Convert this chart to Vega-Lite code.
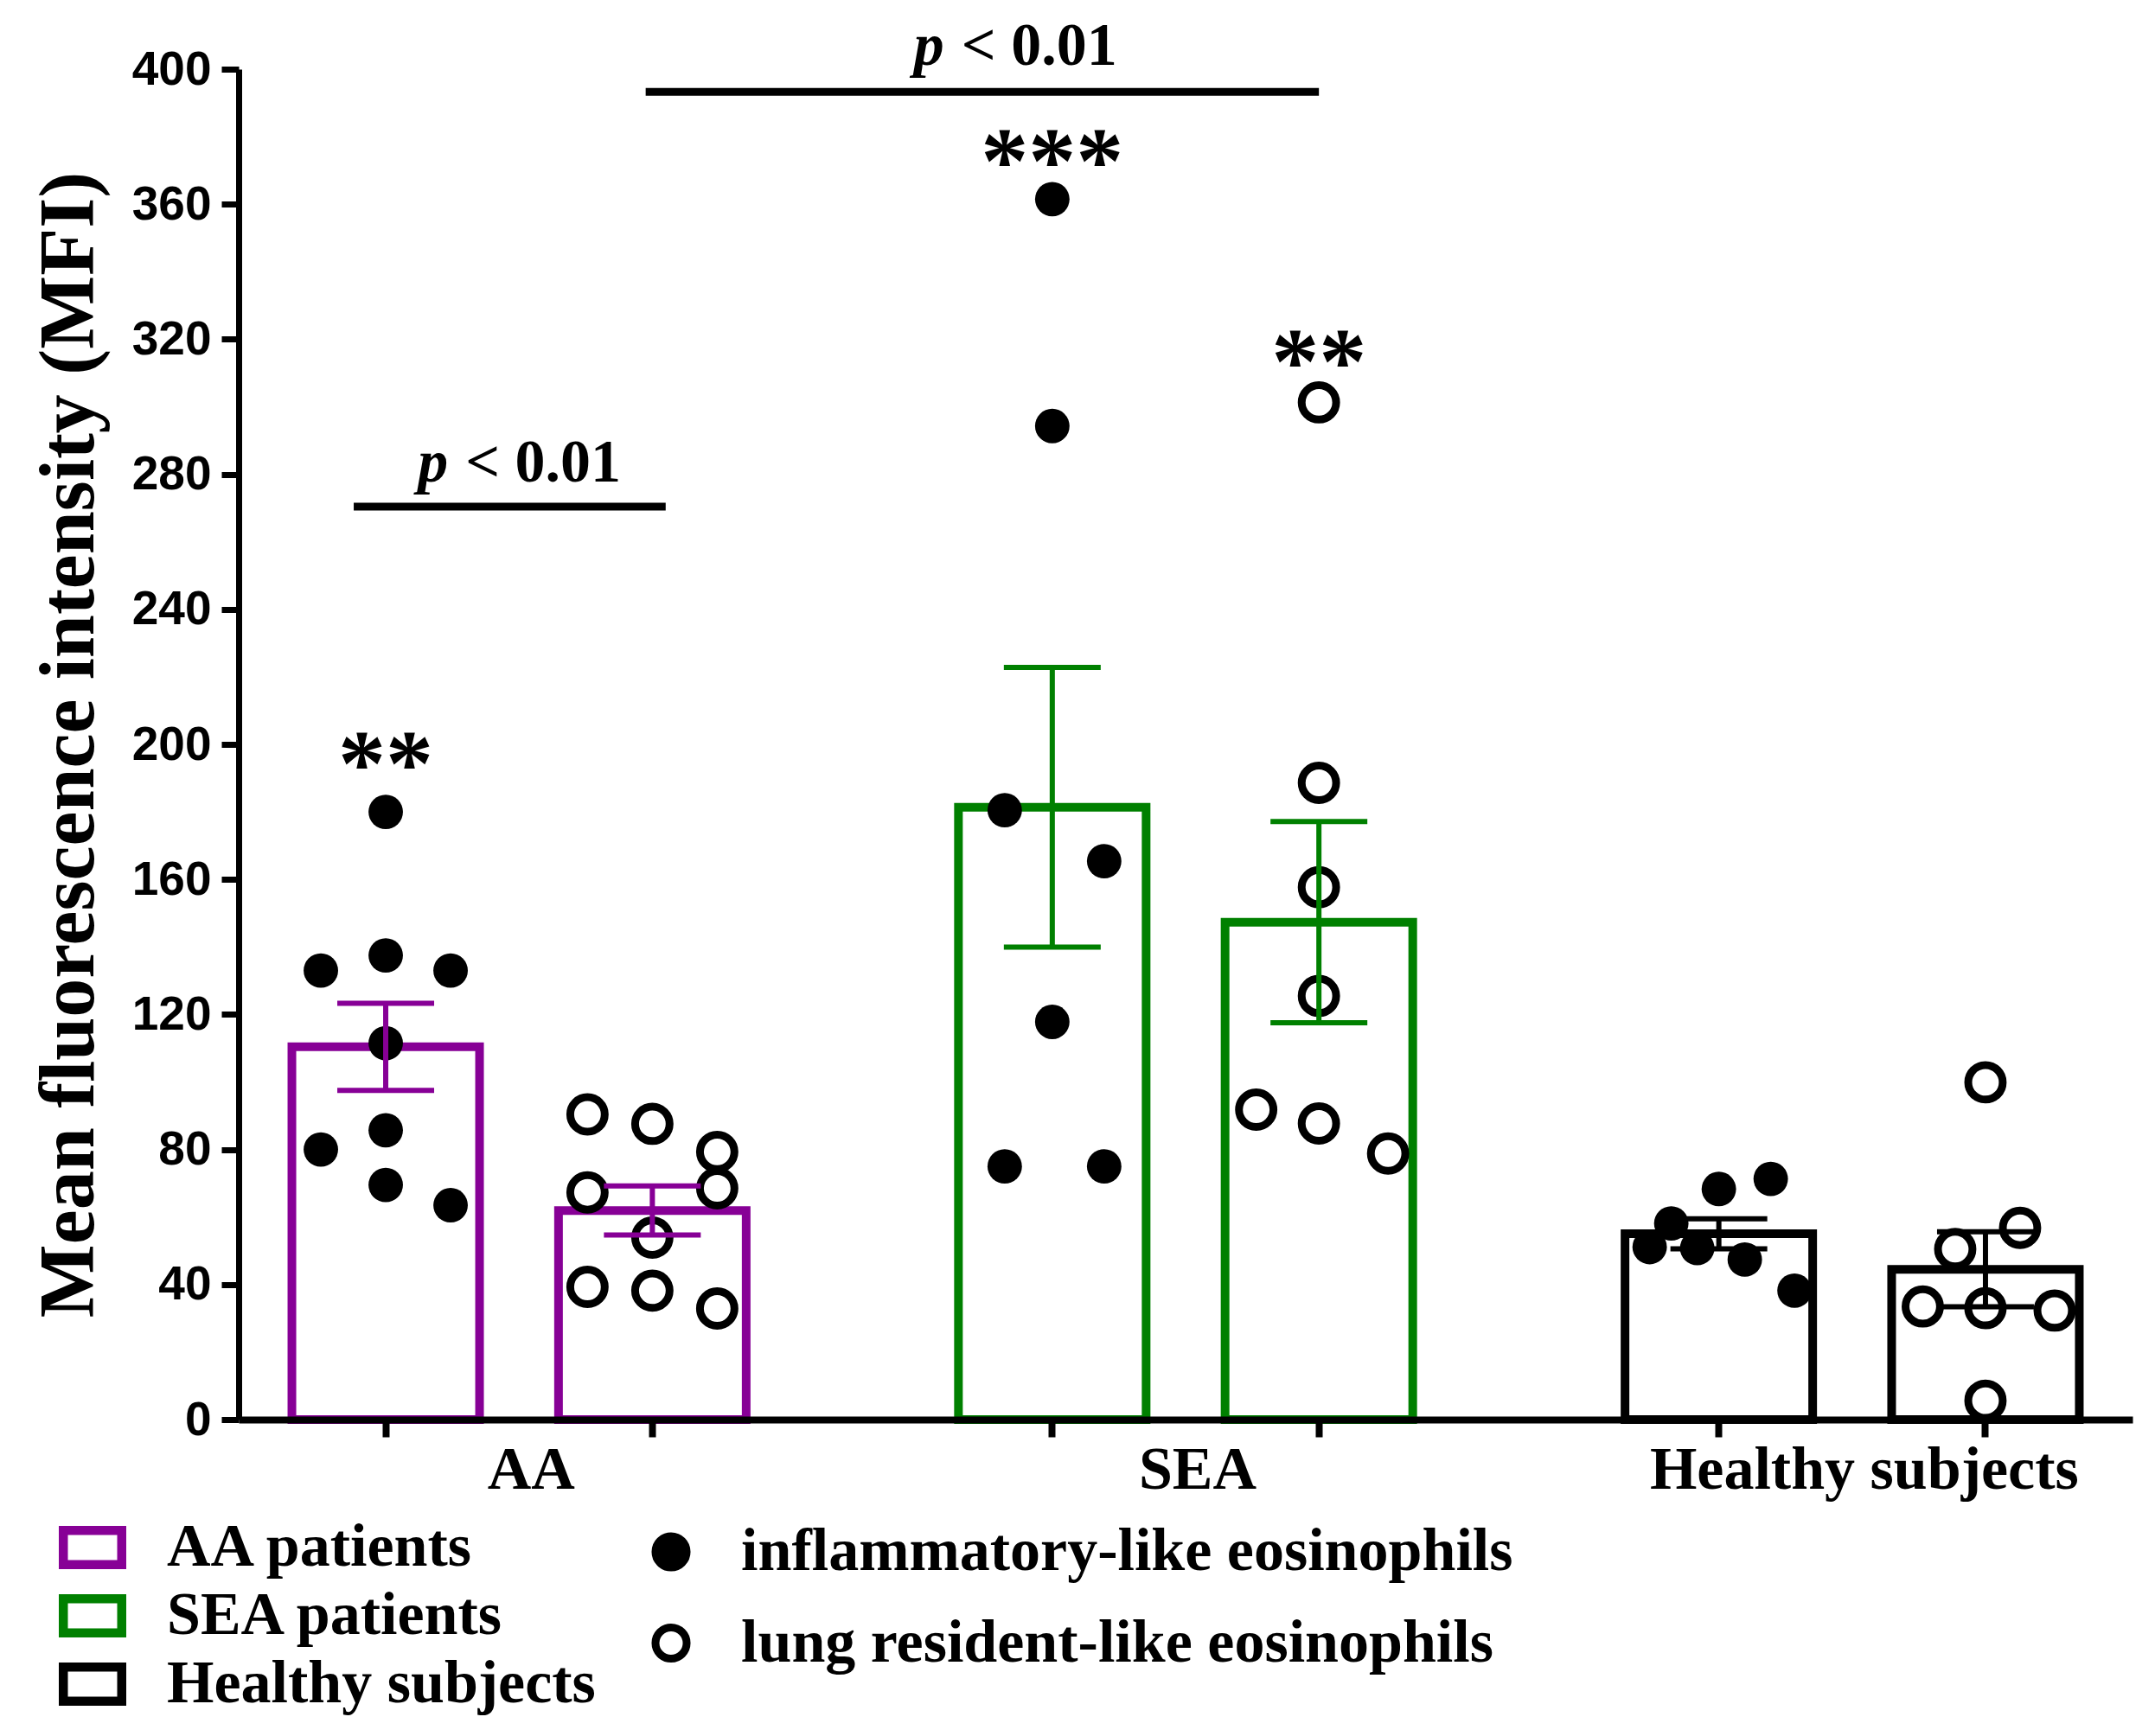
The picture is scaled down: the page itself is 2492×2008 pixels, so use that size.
{
  "$schema": "https://vega.github.io/schema/vega-lite/v6.json",
  "autosize": {"type": "none"},
  "padding": {"left": 276, "top": 80, "right": 26, "bottom": 366},
  "width": 2190,
  "height": 1562,
  "background": "white",
  "config": {
    "view": {"stroke": null},
    "text": {"font": "Liberation Serif", "fontWeight": "bold", "color": "black"}
  },
  "datasets": {
    "eos": [
      {"cohort": "AA patients", "bar": "AA inflammatory", "cell": "inflammatory-like eosinophils", "value": 180, "swarm": 0},
      {"cohort": "AA patients", "bar": "AA inflammatory", "cell": "inflammatory-like eosinophils", "value": 133, "swarm": -3},
      {"cohort": "AA patients", "bar": "AA inflammatory", "cell": "inflammatory-like eosinophils", "value": 137.5, "swarm": 0},
      {"cohort": "AA patients", "bar": "AA inflammatory", "cell": "inflammatory-like eosinophils", "value": 133, "swarm": 3},
      {"cohort": "AA patients", "bar": "AA inflammatory", "cell": "inflammatory-like eosinophils", "value": 111.5, "swarm": 0},
      {"cohort": "AA patients", "bar": "AA inflammatory", "cell": "inflammatory-like eosinophils", "value": 80, "swarm": -3},
      {"cohort": "AA patients", "bar": "AA inflammatory", "cell": "inflammatory-like eosinophils", "value": 85.7, "swarm": 0},
      {"cohort": "AA patients", "bar": "AA inflammatory", "cell": "inflammatory-like eosinophils", "value": 69.5, "swarm": 0},
      {"cohort": "AA patients", "bar": "AA inflammatory", "cell": "inflammatory-like eosinophils", "value": 63.5, "swarm": 3},
      {"cohort": "AA patients", "bar": "AA lung", "cell": "lung resident-like eosinophils", "value": 90.4, "swarm": -3},
      {"cohort": "AA patients", "bar": "AA lung", "cell": "lung resident-like eosinophils", "value": 87.6, "swarm": 0},
      {"cohort": "AA patients", "bar": "AA lung", "cell": "lung resident-like eosinophils", "value": 79.3, "swarm": 3},
      {"cohort": "AA patients", "bar": "AA lung", "cell": "lung resident-like eosinophils", "value": 67.3, "swarm": -3},
      {"cohort": "AA patients", "bar": "AA lung", "cell": "lung resident-like eosinophils", "value": 68.5, "swarm": 3},
      {"cohort": "AA patients", "bar": "AA lung", "cell": "lung resident-like eosinophils", "value": 53.9, "swarm": 0},
      {"cohort": "AA patients", "bar": "AA lung", "cell": "lung resident-like eosinophils", "value": 39.3, "swarm": -3},
      {"cohort": "AA patients", "bar": "AA lung", "cell": "lung resident-like eosinophils", "value": 38.2, "swarm": 0},
      {"cohort": "AA patients", "bar": "AA lung", "cell": "lung resident-like eosinophils", "value": 32.9, "swarm": 3},
      {"cohort": "SEA patients", "bar": "SEA inflammatory", "cell": "inflammatory-like eosinophils", "value": 361.5, "swarm": 0},
      {"cohort": "SEA patients", "bar": "SEA inflammatory", "cell": "inflammatory-like eosinophils", "value": 294.3, "swarm": 0},
      {"cohort": "SEA patients", "bar": "SEA inflammatory", "cell": "inflammatory-like eosinophils", "value": 180.5, "swarm": -2.2},
      {"cohort": "SEA patients", "bar": "SEA inflammatory", "cell": "inflammatory-like eosinophils", "value": 165.4, "swarm": 2.4},
      {"cohort": "SEA patients", "bar": "SEA inflammatory", "cell": "inflammatory-like eosinophils", "value": 117.8, "swarm": 0},
      {"cohort": "SEA patients", "bar": "SEA inflammatory", "cell": "inflammatory-like eosinophils", "value": 75, "swarm": -2.2},
      {"cohort": "SEA patients", "bar": "SEA inflammatory", "cell": "inflammatory-like eosinophils", "value": 75, "swarm": 2.4},
      {"cohort": "SEA patients", "bar": "SEA lung", "cell": "lung resident-like eosinophils", "value": 301.3, "swarm": 0},
      {"cohort": "SEA patients", "bar": "SEA lung", "cell": "lung resident-like eosinophils", "value": 188.6, "swarm": 0},
      {"cohort": "SEA patients", "bar": "SEA lung", "cell": "lung resident-like eosinophils", "value": 157.7, "swarm": 0},
      {"cohort": "SEA patients", "bar": "SEA lung", "cell": "lung resident-like eosinophils", "value": 125.5, "swarm": 0},
      {"cohort": "SEA patients", "bar": "SEA lung", "cell": "lung resident-like eosinophils", "value": 91.8, "swarm": -2.9},
      {"cohort": "SEA patients", "bar": "SEA lung", "cell": "lung resident-like eosinophils", "value": 87.7, "swarm": 0},
      {"cohort": "SEA patients", "bar": "SEA lung", "cell": "lung resident-like eosinophils", "value": 78.8, "swarm": 3.2},
      {"cohort": "Healthy subjects", "bar": "Healthy inflammatory", "cell": "inflammatory-like eosinophils", "value": 71.3, "swarm": 2.4},
      {"cohort": "Healthy subjects", "bar": "Healthy inflammatory", "cell": "inflammatory-like eosinophils", "value": 68.3, "swarm": 0},
      {"cohort": "Healthy subjects", "bar": "Healthy inflammatory", "cell": "inflammatory-like eosinophils", "value": 58.1, "swarm": -2.2},
      {"cohort": "Healthy subjects", "bar": "Healthy inflammatory", "cell": "inflammatory-like eosinophils", "value": 51.1, "swarm": -3.2},
      {"cohort": "Healthy subjects", "bar": "Healthy inflammatory", "cell": "inflammatory-like eosinophils", "value": 50.8, "swarm": -1},
      {"cohort": "Healthy subjects", "bar": "Healthy inflammatory", "cell": "inflammatory-like eosinophils", "value": 47.4, "swarm": 1.2},
      {"cohort": "Healthy subjects", "bar": "Healthy inflammatory", "cell": "inflammatory-like eosinophils", "value": 38.2, "swarm": 3.5},
      {"cohort": "Healthy subjects", "bar": "Healthy lung", "cell": "lung resident-like eosinophils", "value": 99.9, "swarm": 0},
      {"cohort": "Healthy subjects", "bar": "Healthy lung", "cell": "lung resident-like eosinophils", "value": 56.8, "swarm": 1.6},
      {"cohort": "Healthy subjects", "bar": "Healthy lung", "cell": "lung resident-like eosinophils", "value": 50.5, "swarm": -1.4},
      {"cohort": "Healthy subjects", "bar": "Healthy lung", "cell": "lung resident-like eosinophils", "value": 33.5, "swarm": -2.9},
      {"cohort": "Healthy subjects", "bar": "Healthy lung", "cell": "lung resident-like eosinophils", "value": 33.0, "swarm": 0},
      {"cohort": "Healthy subjects", "bar": "Healthy lung", "cell": "lung resident-like eosinophils", "value": 32.3, "swarm": 3.2},
      {"cohort": "Healthy subjects", "bar": "Healthy lung", "cell": "lung resident-like eosinophils", "value": 5.6, "swarm": 0}
    ]
  },
  "data": {"name": "eos"},
  "encoding": {
    "x": {
      "field": "bar",
      "type": "nominal",
      "title": null,
      "scale": {
        "domain": ["AA inflammatory", "AA mid", "AA lung", "gap 1", "gap 2", "SEA inflammatory", "SEA mid", "SEA lung", "gap 3", "gap 4", "Healthy inflammatory", "Healthy mid", "Healthy lung"],
        "paddingInner": 0,
        "paddingOuter": 0.603
      },
      "axis": {
        "values": ["AA inflammatory", "AA lung", "SEA inflammatory", "SEA lung", "Healthy inflammatory", "Healthy lung"],
        "labels": false,
        "title": null,
        "domainColor": "black",
        "domainWidth": 8,
        "tickColor": "black",
        "tickWidth": 8,
        "tickSize": 20,
        "grid": false,
        "zindex": 1
      }
    }
  },
  "layer": [
    {
      "mark": {"type": "bar", "width": 217, "filled": false, "strokeWidth": 10},
      "encoding": {
        "y": {
          "aggregate": "mean",
          "field": "value",
          "type": "quantitative",
          "title": "Mean fluorescence intensity (MFI)",
          "scale": {"domain": [0, 400], "nice": false},
          "axis": {
            "values": [0, 40, 80, 120, 160, 200, 240, 280, 320, 360, 400],
            "title": "Mean fluorescence intensity (MFI)",
            "titleFont": "Liberation Serif",
            "titleFontSize": 90,
            "titleFontWeight": "bold",
            "titleColor": "black",
            "titleX": -169,
            "titleY": 781,
            "titleAngle": -90,
            "titleBaseline": "alphabetic",
            "titleAlign": "center",
            "labelFont": "Liberation Sans",
            "labelFontSize": 55,
            "labelFontWeight": "bold",
            "labelColor": "black",
            "labelPadding": 12,
            "labelOverlap": false,
            "tickSize": 20,
            "tickWidth": 7,
            "tickColor": "black",
            "domainWidth": 7,
            "domainColor": "black",
            "grid": false,
            "zindex": 1
          }
        },
        "stroke": {
          "field": "cohort",
          "type": "nominal",
          "scale": {"domain": ["AA patients", "SEA patients", "Healthy subjects"], "range": ["#870096", "#008000", "#000000"]},
          "legend": {
            "orient": "none",
            "legendX": -204,
            "legendY": 1675,
            "title": null,
            "padding": 0,
            "symbolType": "M-1.56,-1.0L1.56,-1.0L1.56,1.0L-1.56,1.0Z M-1.14,-0.58L-1.14,0.58L1.14,0.58L1.14,-0.58Z",
            "symbolSize": 2500,
            "symbolStrokeWidth": 0,
            "labelFont": "Liberation Serif",
            "labelFontSize": 70,
            "labelFontWeight": "bold",
            "labelColor": "black",
            "labelLimit": 2000,
            "labelOffset": 51,
            "rowPadding": 9
          }
        }
      }
    },
    {
      "transform": [{"filter": "datum.cell === 'inflammatory-like eosinophils'"}],
      "mark": {"type": "point", "shape": "circle", "filled": true, "strokeWidth": 0, "size": 1590, "opacity": 1},
      "encoding": {
        "xOffset": {"field": "swarm", "type": "quantitative", "scale": {"domain": [-4, 4], "range": [-22.92, 177.08]}},
        "y": {"field": "value", "type": "quantitative", "title": "Mean fluorescence intensity (MFI)", "scale": {"domain": [0, 400], "nice": false}},
        "fill": {
          "field": "cell",
          "type": "nominal",
          "scale": {"domain": ["inflammatory-like eosinophils", "lung resident-like eosinophils"], "range": ["#000000", "#ffffff"]},
          "legend": {
            "orient": "none",
            "legendX": 465,
            "legendY": 1680,
            "title": null,
            "padding": 0,
            "symbolType": "circle",
            "symbolSize": 1300,
            "symbolStrokeColor": "black",
            "symbolStrokeWidth": 9,
            "labelFont": "Liberation Serif",
            "labelFontSize": 70,
            "labelFontWeight": "bold",
            "labelColor": "black",
            "labelLimit": 2000,
            "labelOffset": 46,
            "rowPadding": 31.5
          }
        }
      }
    },
    {
      "transform": [{"filter": "datum.cell === 'lung resident-like eosinophils'"}],
      "mark": {"type": "point", "shape": "circle", "filled": true, "stroke": "black", "strokeWidth": 9, "size": 1590, "opacity": 1},
      "encoding": {
        "xOffset": {"field": "swarm", "type": "quantitative", "scale": {"domain": [-4, 4], "range": [-22.92, 177.08]}},
        "y": {"field": "value", "type": "quantitative", "title": "Mean fluorescence intensity (MFI)", "scale": {"domain": [0, 400], "nice": false}},
        "fill": {
          "field": "cell",
          "type": "nominal",
          "scale": {"domain": ["inflammatory-like eosinophils", "lung resident-like eosinophils"], "range": ["#000000", "#ffffff"]},
          "legend": {
            "orient": "none",
            "legendX": 465,
            "legendY": 1680,
            "title": null,
            "padding": 0,
            "symbolType": "circle",
            "symbolSize": 1300,
            "symbolStrokeColor": "black",
            "symbolStrokeWidth": 9,
            "labelFont": "Liberation Serif",
            "labelFontSize": 70,
            "labelFontWeight": "bold",
            "labelColor": "black",
            "labelLimit": 2000,
            "labelOffset": 46,
            "rowPadding": 31.5
          }
        }
      }
    },
    {
      "mark": {"type": "errorbar", "extent": "stderr", "ticks": {"size": 112, "thickness": 6, "opacity": 1}, "rule": {"strokeWidth": 6, "opacity": 1}},
      "encoding": {
        "y": {"field": "value", "type": "quantitative", "title": "Mean fluorescence intensity (MFI)", "scale": {"domain": [0, 400], "nice": false}},
        "color": {
          "field": "cohort",
          "type": "nominal",
          "scale": {"domain": ["AA patients", "SEA patients", "Healthy subjects"], "range": ["#870096", "#008000", "#000000"]},
          "legend": null
        }
      }
    },
    {
      "data": {"values": [{"from": "AA inflammatory", "to": "AA lung"}]},
      "mark": {"type": "rule", "strokeWidth": 9, "color": "black"},
      "encoding": {
        "x": {
          "field": "from",
          "type": "nominal",
          "title": null,
          "bandPosition": 0.26,
          "scale": {
            "domain": ["AA inflammatory", "AA mid", "AA lung", "gap 1", "gap 2", "SEA inflammatory", "SEA mid", "SEA lung", "gap 3", "gap 4", "Healthy inflammatory", "Healthy mid", "Healthy lung"],
            "paddingInner": 0,
            "paddingOuter": 0.603
          },
          "axis": {
            "values": ["AA inflammatory", "AA lung", "SEA inflammatory", "SEA lung", "Healthy inflammatory", "Healthy lung"],
            "labels": false,
            "title": null,
            "domainColor": "black",
            "domainWidth": 8,
            "tickColor": "black",
            "tickWidth": 8,
            "tickSize": 20,
            "grid": false,
            "zindex": 1
          }
        },
        "x2": {"field": "to", "bandPosition": 0.6},
        "y": {"datum": 270.4, "type": "quantitative", "title": "Mean fluorescence intensity (MFI)", "scale": {"domain": [0, 400], "nice": false}}
      }
    },
    {
      "data": {"values": [{"from": "AA lung", "to": "SEA lung"}]},
      "mark": {"type": "rule", "strokeWidth": 9, "color": "black"},
      "encoding": {
        "x": {
          "field": "from",
          "type": "nominal",
          "title": null,
          "bandPosition": 0.45,
          "scale": {
            "domain": ["AA inflammatory", "AA mid", "AA lung", "gap 1", "gap 2", "SEA inflammatory", "SEA mid", "SEA lung", "gap 3", "gap 4", "Healthy inflammatory", "Healthy mid", "Healthy lung"],
            "paddingInner": 0,
            "paddingOuter": 0.603
          },
          "axis": {
            "values": ["AA inflammatory", "AA lung", "SEA inflammatory", "SEA lung", "Healthy inflammatory", "Healthy lung"],
            "labels": false,
            "title": null,
            "domainColor": "black",
            "domainWidth": 8,
            "tickColor": "black",
            "tickWidth": 8,
            "tickSize": 20,
            "grid": false,
            "zindex": 1
          }
        },
        "x2": {"field": "to", "bandPosition": 0.5},
        "y": {"datum": 393.3, "type": "quantitative", "title": "Mean fluorescence intensity (MFI)", "scale": {"domain": [0, 400], "nice": false}}
      }
    },
    {
      "data": {"values": [{"bar": "AA mid"}]},
      "mark": {"type": "text", "text": "p", "fontStyle": "italic", "fontSize": 70, "align": "right", "baseline": "alphabetic", "dx": -82},
      "encoding": {"y": {"datum": 277.8, "type": "quantitative", "title": "Mean fluorescence intensity (MFI)", "scale": {"domain": [0, 400], "nice": false}}}
    },
    {
      "data": {"values": [{"bar": "AA mid"}]},
      "mark": {"type": "text", "text": "< 0.01", "fontSize": 70, "align": "left", "baseline": "alphabetic", "dx": -62},
      "encoding": {"y": {"datum": 277.8, "type": "quantitative", "title": "Mean fluorescence intensity (MFI)", "scale": {"domain": [0, 400], "nice": false}}}
    },
    {
      "data": {"values": [{"bar": "SEA inflammatory"}]},
      "mark": {"type": "text", "text": "p", "fontStyle": "italic", "fontSize": 70, "align": "right", "baseline": "alphabetic", "dx": -125},
      "encoding": {"y": {"datum": 401.3, "type": "quantitative", "title": "Mean fluorescence intensity (MFI)", "scale": {"domain": [0, 400], "nice": false}}}
    },
    {
      "data": {"values": [{"bar": "SEA inflammatory"}]},
      "mark": {"type": "text", "text": "< 0.01", "fontSize": 70, "align": "left", "baseline": "alphabetic", "dx": -105},
      "encoding": {"y": {"datum": 401.3, "type": "quantitative", "title": "Mean fluorescence intensity (MFI)", "scale": {"domain": [0, 400], "nice": false}}}
    },
    {
      "data": {"values": [{"bar": "AA inflammatory"}]},
      "mark": {"type": "text", "text": "**", "fontSize": 110, "align": "center", "baseline": "alphabetic"},
      "encoding": {"y": {"datum": 184.9, "type": "quantitative", "title": "Mean fluorescence intensity (MFI)", "scale": {"domain": [0, 400], "nice": false}}}
    },
    {
      "data": {"values": [{"bar": "SEA inflammatory"}]},
      "mark": {"type": "text", "text": "***", "fontSize": 110, "align": "center", "baseline": "alphabetic"},
      "encoding": {"y": {"datum": 363.4, "type": "quantitative", "title": "Mean fluorescence intensity (MFI)", "scale": {"domain": [0, 400], "nice": false}}}
    },
    {
      "data": {"values": [{"bar": "SEA lung"}]},
      "mark": {"type": "text", "text": "**", "fontSize": 110, "align": "center", "baseline": "alphabetic"},
      "encoding": {"y": {"datum": 304.0, "type": "quantitative", "title": "Mean fluorescence intensity (MFI)", "scale": {"domain": [0, 400], "nice": false}}}
    },
    {
      "data": {"values": [{"bar": "AA mid", "label": "AA"}, {"bar": "SEA mid", "label": "SEA"}, {"bar": "Healthy mid", "label": "Healthy subjects"}]},
      "mark": {"type": "text", "fontSize": 70, "align": "center", "baseline": "alphabetic", "dx": 14},
      "encoding": {
        "text": {"field": "label", "type": "nominal"},
        "y": {"datum": -20.5, "type": "quantitative", "title": "Mean fluorescence intensity (MFI)", "scale": {"domain": [0, 400], "nice": false}}
      }
    }
  ]
}
